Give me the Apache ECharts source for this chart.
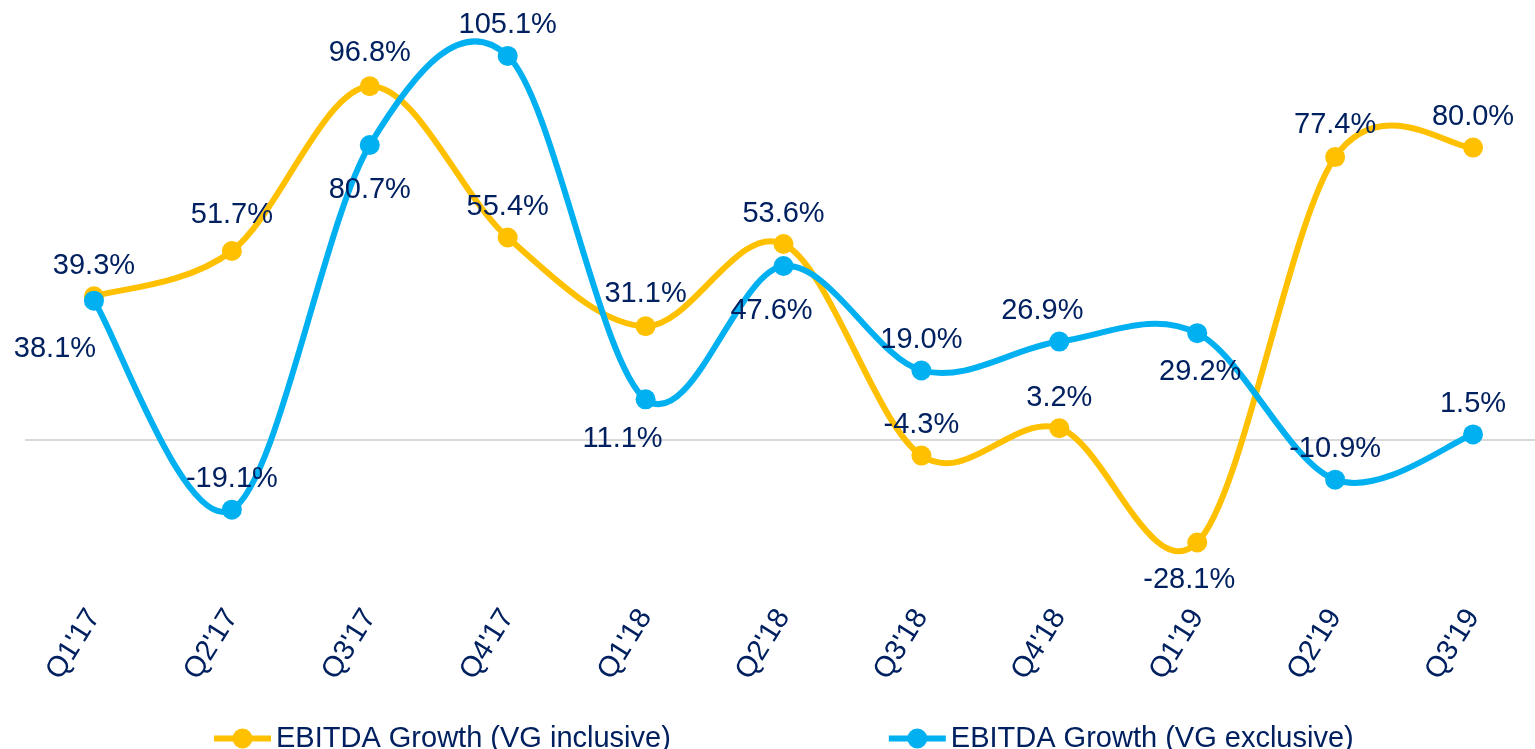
<!DOCTYPE html>
<html>
<head>
<meta charset="utf-8">
<script src="https://cdn.jsdelivr.net/npm/echarts@6/dist/echarts.min.js"></script>
<style>
  html, body { margin: 0; padding: 0; background: #fff; }
  #chart { width: 1535px; height: 749px; }
</style>
</head>
<body>
<div id="chart"></div>
<script>
// quarters on the x axis
var quarters = ["Q1'17", "Q2'17", "Q3'17", "Q4'17", "Q1'18", "Q2'18", "Q3'18", "Q4'18", "Q1'19", "Q2'19", "Q3'19"];

// EBITDA growth, %
var growthInclusive = [39.3, 51.7, 96.8, 55.4, 31.1, 53.6, -4.3, 3.2, -28.1, 77.4, 80.0];
var growthExclusive = [38.1, -19.1, 80.7, 105.1, 11.1, 47.6, 19.0, 26.9, 29.2, -10.9, 1.5];

// where each data label sits (kept apart from the values)
var inclLabelPos = ['top', 'top', 'top', 'top', 'top', 'top', 'top', 'top', 'bottom', 'top', 'top'];
var inclLabelShift = [[0, 0], [0, -5], [0, -3], [0, 0], [0, -2], [0, 0], [0, 0], [0, 0], [-8, 7], [0, -2], [0, 0]];
var exclLabelPos = ['bottom', 'top', 'bottom', 'top', 'bottom', 'bottom', 'top', 'top', 'bottom', 'top', 'top'];
var exclLabelShift = [[-39, 18], [0, 0], [0, 14], [0, 0], [-23, 9], [-12, 15], [0, 0], [-17, 0], [3, 8], [0, 0], [0, 0]];

var NAVY = '#002060';
var YELLOW = '#FFC000';
var BLUE = '#00B0F0';
var FONT = '"Liberation Sans", Arial, sans-serif';
var NAME_INCL = 'EBITDA Growth (VG inclusive)';
var NAME_EXCL = 'EBITDA Growth (VG exclusive)';

function buildData(values, pos, shift) {
	return values.map(function (v, i) {
		return {
			value: v,
			label: { position: pos[i], offset: shift[i] }
		};
	});
}

// markers + labels (the curve itself is drawn by curveSeries)
function pointSeries(name, color, values, pos, shift, z) {
	return {
		name: name,
		type: 'line',
		z: z,
		symbol: 'circle',
		symbolSize: 20,
		itemStyle: { color: color },
		lineStyle: { color: color, width: 6, opacity: 0 },
		label: {
			show: true,
			distance: 6,
			color: NAVY,
			fontSize: 29,
			fontFamily: FONT,
			formatter: function (p) { return p.value.toFixed(1) + '%'; }
		},
		data: buildData(values, pos, shift)
	};
}

// office-style smoothed curve: bezier segments, control points at 1/6 of neighbour spread
function curveSeries(name, color, values, z) {
	var segs = [];
	for (var i = 0; i < values.length - 1; i++) segs.push([i]);
	return {
		name: name + ' curve',
		type: 'custom',
		z: z,
		silent: true,
		data: segs,
		renderItem: function (params, api) {
			var i = params.dataIndex;
			var n = values.length;
			var p0 = api.coord([Math.max(i - 1, 0), values[Math.max(i - 1, 0)]]);
			var p1 = api.coord([i, values[i]]);
			var p2 = api.coord([i + 1, values[i + 1]]);
			var p3 = api.coord([Math.min(i + 2, n - 1), values[Math.min(i + 2, n - 1)]]);
			return {
				type: 'bezierCurve',
				shape: {
					x1: p1[0], y1: p1[1],
					x2: p2[0], y2: p2[1],
					cpx1: p1[0] + (p2[0] - p0[0]) / 6,
					cpy1: p1[1] + (p2[1] - p0[1]) / 6,
					cpx2: p2[0] - (p3[0] - p1[0]) / 6,
					cpy2: p2[1] - (p3[1] - p1[1]) / 6
				},
				style: { stroke: color, lineWidth: 6, fill: null, lineCap: 'round' }
			};
		}
	};
}

var chart = echarts.init(document.getElementById('chart'));

var inclPoints = pointSeries(NAME_INCL, YELLOW, growthInclusive, inclLabelPos, inclLabelShift, 3);
// zero line
inclPoints.markLine = {
	silent: true,
	symbol: 'none',
	label: { show: false },
	lineStyle: { color: '#D9D9D9', width: 2, type: 'solid', opacity: 1 },
	data: [{ yAxis: 0 }],
	z: 1
};

chart.setOption({
	animation: false,
	backgroundColor: '#fff',
	textStyle: { fontFamily: FONT },
	grid: { left: 25, width: 1517, top: 38, bottom: 163, outerBoundsMode: 'none' },
	legend: {
		left: 206,
		top: 719,
		itemWidth: 57,
		itemHeight: 25,
		itemGap: 215,
		textStyle: { color: NAVY, fontSize: 29, fontFamily: FONT },
		data: [
			{ name: NAME_INCL, lineStyle: { color: YELLOW, width: 6, opacity: 1 } },
			{ name: NAME_EXCL, lineStyle: { color: BLUE, width: 6, opacity: 1 } }
		]
	},
	xAxis: {
		type: 'category',
		data: quarters,
		boundaryGap: true,
		axisLine: { show: false },
		axisTick: { show: false },
		axisLabel: {
			rotate: 58,
			margin: 26,
			color: NAVY,
			fontSize: 29,
			fontFamily: FONT
		}
	},
	yAxis: {
		type: 'value',
		min: -40,
		max: 110,
		show: false,
		splitLine: { show: false }
	},
	series: [
		curveSeries(NAME_INCL, YELLOW, growthInclusive, 2),
		inclPoints,
		curveSeries(NAME_EXCL, BLUE, growthExclusive, 4),
		pointSeries(NAME_EXCL, BLUE, growthExclusive, exclLabelPos, exclLabelShift, 5)
	]
});
</script>
</body>
</html>
